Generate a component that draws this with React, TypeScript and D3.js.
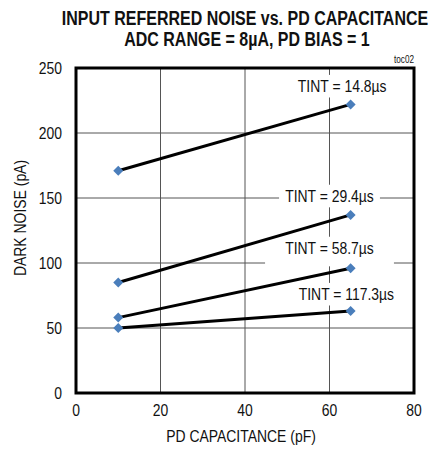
import * as d3 from "d3";
import { useEffect, useRef } from "react";

const capacitance = [10, 65];
const seriesNames = ["TINT = 14.8µs", "TINT = 29.4µs", "TINT = 58.7µs", "TINT = 117.3µs"];
const tint148 = [171, 222];
const tint294 = [85, 137];
const tint587 = [58, 96];
const tint1173 = [50, 63];
const xTicks = [0, 20, 40, 60, 80];
const yTicks = [0, 50, 100, 150, 200, 250];

const FONT = "'Liberation Sans', Arial, sans-serif";
const NARROW = 0.82;

type Sel = d3.Selection<any, any, any, any>;

// narrow text: regular sans squeezed horizontally
function narrowText(
  parent: Sel,
  x: number,
  y: number,
  txt: string,
  size: number,
  anchor = "middle",
  bold = false,
  rotate = 0,
) {
  return parent
    .append("text")
    .attr("transform", `translate(${x},${y}) rotate(${rotate}) scale(${NARROW},1)`)
    .attr("text-anchor", anchor)
    .style("font-family", FONT)
    .style("font-weight", bold ? "bold" : "normal")
    .style("font-size", `${size}px`)
    .attr("fill", "#111")
    .text(txt);
}

export default function App() {
  const svgRef = useRef<SVGSVGElement>(null);

  useEffect(() => {
    if (!svgRef.current) return;
    const svg = d3.select(svgRef.current);
    svg.selectAll("*").remove();

    const margin = { top: 68, left: 76, right: 24, bottom: 56 };
    const width = 438 - margin.left - margin.right;
    const height = 449 - margin.top - margin.bottom;

    const x = d3.scaleLinear().domain([0, 80]).range([0, width]);
    const y = d3.scaleLinear().domain([0, 250]).range([height, 0]);

    // Titles
    narrowText(svg, 245, 25, "INPUT REFERRED NOISE vs. PD CAPACITANCE", 19.5, "middle", true);
    narrowText(svg, 247, 46, "ADC RANGE = 8µA, PD BIAS = 1", 19.5, "middle", true);
    narrowText(svg, margin.left + width, 63, "toc02", 10, "end");

    const g = svg
      .append("g")
      .attr("transform", `translate(${margin.left},${margin.top})`);

    // Grid
    g.selectAll(".vgrid")
      .data(xTicks.slice(1, -1))
      .enter()
      .append("line")
      .attr("x1", (d) => x(d))
      .attr("x2", (d) => x(d))
      .attr("y1", 0)
      .attr("y2", height)
      .attr("stroke", "#555")
      .attr("stroke-width", 1);
    g.selectAll(".hgrid")
      .data(yTicks.slice(1, -1))
      .enter()
      .append("line")
      .attr("x1", 0)
      .attr("x2", width)
      .attr("y1", (d) => y(d))
      .attr("y2", (d) => y(d))
      .attr("stroke", "#555")
      .attr("stroke-width", 1);

    // Tick labels
    xTicks.forEach((t) => narrowText(g, x(t), height + 23, String(t), 17));
    yTicks.forEach((t) => narrowText(g, -14, y(t) + 6, String(t), 17, "end"));

    // Axis titles
    narrowText(g, 241 - margin.left, height + 49, "PD CAPACITANCE (pF)", 17);
    narrowText(g, 26 - margin.left, 218 - margin.top, "DARK NOISE (pA)", 17, "middle", false, -90);

    // Series labels with white background
    const labels = [
      { name: seriesNames[0], cx: 63, cy: 236, padX: 4, top: 2, bottom: 2 },
      { name: seriesNames[1], cx: 60, cy: 151.5, padX: 6, top: 2, bottom: 2 },
      { name: seriesNames[2], cx: 60, cy: 111.5, padX: 20, top: 2, bottom: 9 },
      { name: seriesNames[3], cx: 64, cy: 76, padX: 4, top: 2, bottom: 2 },
    ];
    labels.forEach((l) => {
      const lg = g.append("g");
      const t = narrowText(lg, x(l.cx), y(l.cy) + 6, l.name, 17);
      const bb = (t.node() as SVGTextElement).getBBox();
      const w = bb.width * NARROW;
      const cx = x(l.cx);
      lg.insert("rect", "text")
        .attr("x", cx - w / 2 - l.padX)
        .attr("y", y(l.cy) + 6 + bb.y - l.top)
        .attr("width", w + 2 * l.padX)
        .attr("height", bb.height + l.top + l.bottom)
        .attr("fill", "white");
    });

    // Lines and markers
    const series = [tint148, tint294, tint587, tint1173];
    const line = d3
      .line<number>()
      .x((_, i) => x(capacitance[i]))
      .y((d) => y(d));
    series.forEach((s) => {
      g.append("path")
        .datum(s)
        .attr("fill", "none")
        .attr("stroke", "black")
        .attr("stroke-width", 3)
        .attr("d", line);
    });
    series.forEach((s) => {
      g.selectAll(null)
        .data(s)
        .enter()
        .append("path")
        .attr("d", d3.symbol(d3.symbolDiamond2, 64)() as string)
        .attr("transform", (d, i) => `translate(${x(capacitance[i])},${y(d)})`)
        .attr("fill", "#4a7ebb");
    });

    // Border
    g.append("rect")
      .attr("width", width)
      .attr("height", height)
      .attr("fill", "none")
      .attr("stroke", "black")
      .attr("stroke-width", 3);
  }, []);

  return (
    <svg
      ref={svgRef}
      width="438"
      height="449"
      style={{ position: "absolute", left: 0, top: 0, background: "white" }}
    />
  );
}
